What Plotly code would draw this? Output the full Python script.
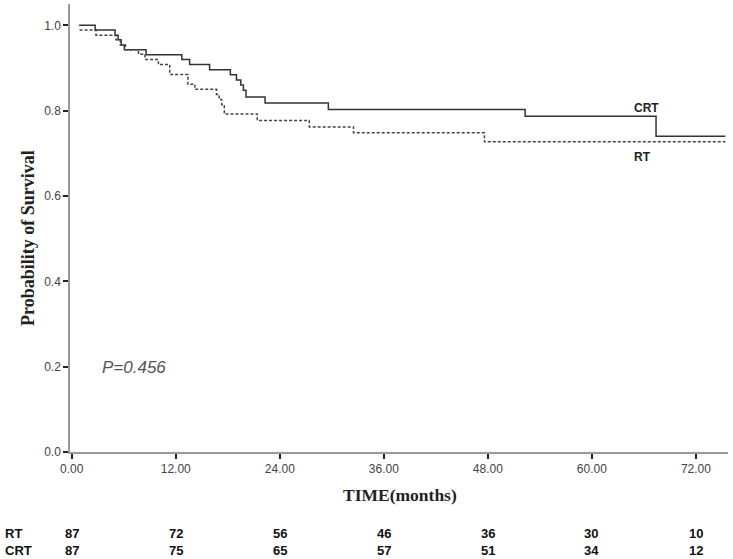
import plotly.graph_objects as go

# Kaplan-Meier step data (time in months, survival probability)
crt_time = [0.85, 2.7, 5.0, 5.35, 5.7, 6.07, 8.57, 12.7, 13.6, 15.9, 18.3, 19.0, 19.5, 19.8, 20.1, 22.3, 29.6, 52.3, 67.4, 75.4]
crt_surv = [1.0, 0.989, 0.977, 0.966, 0.954, 0.943, 0.931, 0.92, 0.908, 0.896, 0.884, 0.872, 0.86, 0.848, 0.832, 0.818, 0.803, 0.787, 0.740, 0.740]

rt_time = [0.9, 2.8, 5.1, 5.6, 6.2, 7.7, 8.45, 10.0, 11.3, 13.4, 14.2, 16.7, 17.0, 17.3, 17.6, 21.4, 27.4, 32.5, 47.6, 75.4]
rt_surv = [0.989, 0.977, 0.966, 0.954, 0.943, 0.932, 0.920, 0.908, 0.885, 0.862, 0.850, 0.838, 0.826, 0.814, 0.792, 0.777, 0.762, 0.748, 0.727, 0.727]

# Number-at-risk table
risk_times = [0, 12, 24, 36, 48, 60, 72]
rt_risk = [87, 72, 56, 46, 36, 30, 10]
crt_risk = [87, 75, 65, 57, 51, 34, 12]
row_labels = ["RT", "CRT"]

x_ticks = [0, 12, 24, 36, 48, 60, 72]
x_ticktext = ["0.00", "12.00", "24.00", "36.00", "48.00", "60.00", "72.00"]
y_ticks = [0.0, 0.2, 0.4, 0.6, 0.8, 1.0]

fig = go.Figure()
fig.add_trace(go.Scatter(x=crt_time, y=crt_surv, mode="lines", line_shape="hv",
                         line=dict(color="#333333", width=1.5), name="CRT", showlegend=False))
fig.add_trace(go.Scatter(x=rt_time, y=rt_surv, mode="lines", line_shape="hv",
                         line=dict(color="#444444", width=1.5, dash="3px,2px"), name="RT", showlegend=False))

tick_font = dict(family="Liberation Sans, Arial, sans-serif", size=12, color="#444444")

fig.update_layout(
    width=733, height=559,
    margin=dict(l=70, r=5, t=4, b=107),
    paper_bgcolor="white", plot_bgcolor="white",
    xaxis=dict(range=[-0.2, 75.7], tickvals=x_ticks, ticktext=x_ticktext,
               showline=True, linecolor="#999999", linewidth=1.5, mirror=False,
               ticks="outside", ticklen=5, tickwidth=1.5, tickcolor="#222222",
               showgrid=False, zeroline=False, tickfont=tick_font),
    yaxis=dict(range=[0, 1.05], tickvals=y_ticks, tickformat=".1f",
               showline=True, linecolor="#999999", linewidth=1.5, mirror=False,
               ticks="outside", ticklen=5, tickwidth=1.5, tickcolor="#222222",
               showgrid=False, zeroline=False, tickfont=tick_font),
)

anns = []
# axis titles
anns.append(dict(text="<b>TIME(months)</b>", xref="paper", yref="paper", x=0.5015, y=-0.096,
                 showarrow=False, xanchor="center", yanchor="middle",
                 font=dict(family="Liberation Serif, Times New Roman, serif", size=17.5, color="#222222")))
anns.append(dict(text="<b>Probability of Survival</b>", xref="paper", yref="paper", x=-0.0638, y=0.478,
                 showarrow=False, xanchor="center", yanchor="middle", textangle=-90,
                 font=dict(family="Liberation Serif, Times New Roman, serif", size=18, color="#222222")))
# curve labels
anns.append(dict(text="<b>CRT</b>", x=64.6, y=0.807, xref="x", yref="y", showarrow=False,
                 xanchor="left", yanchor="middle",
                 font=dict(family="Liberation Sans, Arial, sans-serif", size=12, color="#222222")))
anns.append(dict(text="<b>RT</b>", x=64.6, y=0.692, xref="x", yref="y", showarrow=False,
                 xanchor="left", yanchor="middle",
                 font=dict(family="Liberation Sans, Arial, sans-serif", size=12, color="#222222")))
# p-value
anns.append(dict(text="<i>P=0.456</i>", x=3.3, y=0.197, xref="x", yref="y", showarrow=False,
                 xanchor="left", yanchor="middle",
                 font=dict(family="Liberation Sans, Arial, sans-serif", size=17, color="#555555")))

# number-at-risk table: one two-line annotation per column
risk_font = dict(family="Liberation Sans, Arial, sans-serif", size=13, color="#111111")
table_y = (452 - 541.5) / 448.0
anns.append(dict(text="<br>".join("<b>%s</b>" % s for s in row_labels), xref="paper", yref="paper",
                 x=(4 - 70) / 658.0, y=table_y, showarrow=False, align="left",
                 xanchor="left", yanchor="middle", borderpad=0, font=risk_font))
for t, a, b in zip(risk_times, rt_risk, crt_risk):
    anns.append(dict(text="<b>%d</b><br><b>%d</b>" % (a, b), x=t, xref="x", yref="paper",
                     y=table_y, showarrow=False, xanchor="center", yanchor="middle",
                     align="center", borderpad=0, font=risk_font))

fig.update_layout(annotations=anns)
fig.write_html("out.html", config={"displayModeBar": False},
               post_script="document.body.style.margin='0px';")
